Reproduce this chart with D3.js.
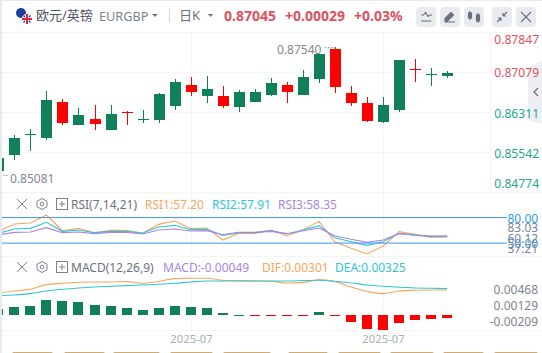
<!DOCTYPE html>
<html><head><meta charset="utf-8">
<script src="https://cdn.jsdelivr.net/npm/d3@7/dist/d3.min.js"></script>
<style>html,body{margin:0;padding:0;background:#fff;overflow:hidden}svg{display:block}text{font-family:"Noto Sans","Noto Sans CJK SC",sans-serif}</style>
</head><body><svg id="c" width="542" height="353"></svg>
<script>
// Candles: index 0 is clipped by the left edge of the plot
const opens  = [.85184,.85485,.85889,.85812,.86503,.86061,.86177,.85965,.86311,.86177,.86157,.86426,.86829,.86618,.86618,.86407,.86503,.86637,.86829,.86637,.86945,.87521,.86676,.86484,.86119,.86349,.87137,.87041,.87002];
const closes = [.85428,.85812,.85889,.86541,.86100,.86253,.86081,.86273,.86310,.86177,.86657,.86887,.86695,.86753,.86426,.86695,.86695,.86868,.86695,.86983,.87425,.86791,.86484,.86138,.86445,.87309,.87136,.87041,.87060];
const highs  = [.85540,.85869,.85985,.86714,.86561,.86388,.86445,.86445,.86330,.86349,.86676,.86945,.86983,.87002,.86810,.86733,.86753,.86964,.86887,.87117,.87425,.87559,.86810,.86599,.86599,.87309,.87329,.87156,.87098];
const lows   = [.85082,.85389,.85562,.85773,.86061,.86061,.85965,.85965,.86061,.86100,.86100,.86349,.86618,.86484,.86388,.86311,.86503,.86618,.86484,.86637,.86868,.86676,.86426,.86119,.86100,.86311,.86887,.86810,.86964];
const rsi1 = [63.45,72.45,73.63,83.03,64.62,67.36,62.27,65.01,65.01,61.49,72.06,75.98,66.97,67.75,53.65,61.49,61.49,65.40,58.35,65.40,75.59,51.30,43.86,37.21,46.60,63.45,60.31,56.79,57.20];
const rsi2 = [61.49,66.58,67.36,74.41,63.84,65.40,62.27,63.84,63.84,61.88,68.93,70.89,65.80,66.19,59.14,62.27,62.27,64.62,60.70,65.40,70.50,56.39,51.69,47.39,51.69,61.49,59.14,57.96,57.91];
const rsi3 = [59.53,62.66,63.05,68.15,62.27,63.05,61.10,62.66,62.66,60.70,65.40,66.58,64.23,64.62,59.92,62.66,62.66,63.84,61.10,64.62,67.75,58.35,54.44,50.91,53.65,61.10,59.53,58.35,58.35];
const macdHist = [.00108,.00144,.00162,.0027,.00252,.00234,.0018,.00162,.00126,.0009,.00126,.00162,.00144,.00126,.00036,.00006,-.00006,-.00006,-.00006,-.00006,.00054,-.00006,-.0012,-.00246,-.00264,-.00144,-.0009,-.00066,-.00049];
const dif = [.00247,.00283,.00313,.00397,.00421,.00439,.00445,.00445,.00451,.00421,.00457,.00505,.00511,.00511,.00475,.00469,.00463,.00457,.00427,.00433,.00487,.00451,.00355,.00277,.00235,.00283,.00295,.00301,.00301];
const dea = [.00199,.00211,.00235,.00283,.00313,.00337,.00355,.00367,.00379,.00391,.00403,.00421,.00445,.00463,.00463,.00463,.00463,.00463,.00463,.00469,.00475,.00457,.00427,.00391,.00367,.00349,.00337,.00331,.00325];
const priceTicks = ["0.87847","0.87079","0.86311","0.85542","0.84774"];
const rsiGuides = [80,50];
const rsiTicks = ["83.03","60.12","37.21"];
const macdTicks = ["0.00468","0.00129","-0.00209"];
const dateLabels = ["2025-07","2025-07"];
const dateIndex = [12,24];

const GREEN="#108058",RED="#ff0000",UPT="#e0515f",DNT="#22a88d",GRAY="#7d8290",GRID="#f4f5f8";
const svg=d3.select("#c");
svg.append("defs").append("clipPath").attr("id","plot").append("rect").attr("x",2).attr("y",32).attr("width",488).attr("height",310);
const x=d3.scaleLinear().domain([0,28]).range([-1.7,447.3]);
const y=d3.scaleLinear().domain([.87079,.85542]).range([72,152]);
const yR=d3.scaleLinear().domain([83.03,37.21]).range([215,254]);
const yH=d3.scaleLinear().domain([0,.00018]).range([315,314]);
const yL=d3.scaleLinear().domain([0,.00018]).range([306.7,305.7]);
const yMT=d3.scaleLinear().domain([.00468,-.00209]).range([289.7,321.7]);

// background
svg.append("rect").attr("width",542).attr("height",353).attr("fill","#fff");
svg.append("rect").attr("width",2).attr("height",353).attr("fill","#e7eaf3");
svg.append("rect").attr("width",542).attr("height",1).attr("fill","#e7eaf3");

// grid
const g=svg.append("g").attr("stroke",GRID).attr("fill","none").attr("shape-rendering","crispEdges");
[32,72,112,152,192,256,330].forEach(v=>g.append("line").attr("x1",2).attr("x2",v===32||v>=192?542:490).attr("y1",v+.5).attr("y2",v+.5));
dateIndex.forEach(i=>g.append("line").attr("x1",Math.round(x(i))+.5).attr("x2",Math.round(x(i))+.5).attr("y1",32).attr("y2",330));
g.append("line").attr("x1",490.5).attr("x2",490.5).attr("y1",32).attr("y2",192);

// collapsed side tab
svg.append("path").attr("d","M542 60L528 68V120L542 124Z").attr("fill","#eeeff5");
svg.append("path").attr("d","M538 88L534 92L538 96").attr("fill","none").attr("stroke","#6c707c").attr("stroke-width",1.2);

const plot=svg.append("g").attr("clip-path","url(#plot)");
// candles
const idx=d3.range(opens.length);
const col=i=>closes[i]>=opens[i]?GREEN:RED;
plot.selectAll(".w").data(idx).join("line").attr("shape-rendering","crispEdges")
 .attr("x1",i=>Math.round(x(i))+.5).attr("x2",i=>Math.round(x(i))+.5)
 .attr("y1",i=>y(highs[i])).attr("y2",i=>y(lows[i])).attr("stroke",col);
plot.selectAll(".b").data(idx).join("rect").attr("shape-rendering","crispEdges")
 .attr("x",i=>Math.round(x(i))-5).attr("width",11)
 .attr("y",i=>Math.round(y(Math.max(opens[i],closes[i]))))
 .attr("height",i=>Math.max(1,Math.round(Math.abs(y(opens[i])-y(closes[i])))))
 .attr("fill",col);

// high/low notes
const txt=(s,xx,yy,o={})=>svg.append("text").text(s).attr("x",xx).attr("y",yy).attr("font-size",o.size||12)
 .attr("fill",o.fill||GRAY).attr("text-anchor",o.anchor||"start").attr("font-weight",o.weight||400).attr("dominant-baseline","central");
txt("0.87540",277,49.5,{fill:"#83878f"});
svg.append("line").attr("x1",325).attr("x2",337).attr("y1",47.5).attr("y2",47.5).attr("stroke","#9a9ea8").attr("stroke-dasharray","1.5 1.5");
txt("0.85081",10,178.5,{fill:"#83878f"});
svg.append("line").attr("x1",3).attr("x2",9).attr("y1",175.5).attr("y2",175.5).attr("stroke","#9a9ea8").attr("stroke-dasharray","1.5 1.5");

// RSI
rsiGuides.forEach(v=>svg.append("line").attr("x1",2).attr("x2",507).attr("y1",yR(v)).attr("y2",yR(v)).attr("stroke","#3c97e6"));
const lR=d3.line().x((d,i)=>x(i)).y(d=>yR(d));
[[rsi1,"#f8a65c"],[rsi2,"#2fc6dc"],[rsi3,"#a985e6"]].forEach(([d,c])=>plot.append("path").attr("d",lR(d)).attr("fill","none").attr("stroke",c).attr("stroke-width",1.1));

// MACD
const lM=d3.line().x((d,i)=>x(i)).y(d=>yL(d)).curve(d3.curveMonotoneX);
[[dif,"#f8a65c"],[dea,"#2fc6dc"]].forEach(([d,c])=>plot.append("path").attr("d",lM(d)).attr("fill","none").attr("stroke",c).attr("stroke-width",1.1));
plot.selectAll(".h").data(macdHist).join("rect").attr("shape-rendering","crispEdges")
 .attr("x",(d,i)=>Math.round(x(i))-5).attr("width",10)
 .attr("y",d=>d>=0?Math.round(yH(d)):315)
 .attr("height",d=>Math.max(1,Math.round(Math.abs(yH(d)-315))))
 .attr("fill",d=>d>=0?GREEN:RED);

// right axis labels
priceTicks.forEach((t,i)=>txt(t,494.3,[39.5,72.5,113,153.5,183][i],{fill:i<2?UPT:DNT,size:12.1}));
[["80.00",218],["50.00",243.5]].forEach(([t,yy])=>txt(t,507.5,yy,{fill:"#2f9bf0"}));
rsiTicks.forEach((t,i)=>txt(t,507.5,[227,238,248][i],{fill:"#80848f"}));
macdTicks.forEach((t,i)=>txt(t,538,yMT(+t),{fill:"#80848f",anchor:"end"}));
dateLabels.forEach((t,i)=>txt(t,Math.round(x(dateIndex[i]))+.5,338.5,{fill:"#a9adba",size:11.3,anchor:"middle"}));

// header
const cp=svg.append("g");
cp.append("circle").attr("cx",21).attr("cy",13).attr("r",5).attr("fill","#1f3f9e");
cp.append("circle").attr("cx",27).attr("cy",19).attr("r",5.2).attr("fill","#f4f4f8");
cp.append("path").attr("d","M22 19H32M27 14V24").attr("stroke","#d8283f").attr("stroke-width",2);
cp.append("path").attr("d","M23.5 15.5L25 17M30.5 15.5L29 17M23.5 22.5L25 21M30.5 22.5L29 21").attr("stroke","#2a3f8f").attr("stroke-width",1.2);
txt("欧元/英镑",36,14.5,{size:13,fill:"#50545e"});
txt("EURGBP",99,15.5,{size:12.7,fill:GRAY});
const tri=(cx,cy,c)=>svg.append("path").attr("d",`M${cx-2.7} ${cy-1.5}H${cx+2.7}L${cx} ${cy+1.5}Z`).attr("fill",c);
tri(155,15.5,"#6b6f7b");
svg.append("rect").attr("x",169).attr("y",9).attr("width",1).attr("height",13).attr("fill","#cfd2da");
txt("日K",179,14.5,{size:13,fill:"#6b6f7b"});
tri(210.5,15.5,"#6b6f7b");
txt("0.87045",224,15,{size:14,fill:UPT,weight:700});
txt("+0.00029",285,15,{size:14,fill:UPT,weight:700});
txt("+0.03%",354,15,{size:14,fill:UPT,weight:700});

// toolbar buttons
[416,440,464,492,516].forEach(v=>svg.append("rect").attr("x",v).attr("y",7).attr("width",20).attr("height",20).attr("rx",4).attr("fill","#e9ebf1"));
const ic=svg.append("g").attr("fill","none").attr("stroke","#6c707c").attr("stroke-width",1.2);
ic.append("path").attr("d","M421 15H423.5L425.5 12.5L428 16.5L430 15H432M421 21H431.5");
ic.append("path").attr("d","M445 18.5L451 12.5L453.5 15L447.5 21H445ZM445 22H455").attr("fill","#6c707c");
ic.append("path").attr("d","M470 11V20M478 13V23").attr("stroke-width",1);
ic.append("rect").attr("x",468.5).attr("y",13).attr("width",3).attr("height",5).attr("fill","#6c707c");
ic.append("rect").attr("x",476.5).attr("y",15).attr("width",3).attr("height",6).attr("fill","#6c707c");
ic.append("path").attr("d","M497 22L501 18M501 18V21M501 18H498M507 12L503 16M503 16V13M503 16H506");
ic.append("path").attr("d","M521 12L531 22M531 12L521 22").attr("stroke-width",1.1);

// pane headers
const paneHead=(yy)=>{
 const s=svg.append("g").attr("fill","none").attr("stroke","#7d818d");
 s.append("path").attr("d",`M17 ${yy-5}L27 ${yy+5}M27 ${yy-5}L17 ${yy+5}`);
 s.append("path").attr("d",`M42 ${yy-5.5}L47 ${yy-2.7}V${yy+2.7}L42 ${yy+5.5}L37 ${yy+2.7}V${yy-2.7}Z`);
 s.append("circle").attr("cx",42).attr("cy",yy).attr("r",1.8);
 s.append("rect").attr("x",56.5).attr("y",yy-5.5).attr("width",11).attr("height",11);
 s.append("path").attr("d",`M59 ${yy}H65M62 ${yy-3}V${yy+3}`);
};
paneHead(204);
txt("RSI(7,14,21)",71,204.5,{fill:"#6c707c"});
txt("RSI1:57.20",145,204.5,{fill:"#f8a65c"});
txt("RSI2:57.91",212,204.5,{fill:"#2fc6dc"});
txt("RSI3:58.35",278,204.5,{fill:"#a985e6"});
paneHead(267);
txt("MACD(12,26,9)",71,267.5,{fill:"#6c707c"});
txt("MACD:-0.00049",163,267.5,{fill:"#a985e6"});
txt("DIF:0.00301",262,267.5,{fill:"#f8a65c"});
txt("DEA:0.00325",335,267.5,{fill:"#2fc6dc"});

// clipped tab row at the bottom
[[12,53],[64,105],[113,160],[170,213],[223,271],[288,328],[338,381],[390,434],[443,484],[494,538]].forEach(([a,b])=>
 svg.append("rect").attr("x",a).attr("y",352).attr("width",b-a).attr("height",6).attr("rx",2).attr("fill","#d0ab72"));
</script></body></html>
